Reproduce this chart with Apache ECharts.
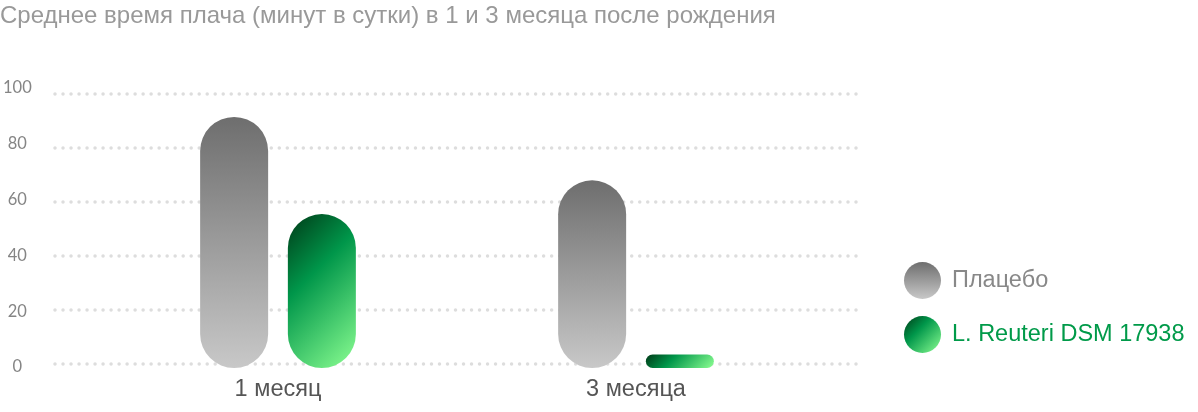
<!DOCTYPE html>
<html>
<head>
<meta charset="utf-8">
<script src="https://cdn.jsdelivr.net/npm/echarts@6/dist/echarts.min.js"></script>
<style>
html,body{margin:0;padding:0;background:#fff;}
#chart{width:1198px;height:412px;}
</style>
</head>
<body>
<div id="chart"></div>
<script>
var titleText = 'Среднее время плача (минут в сутки) в 1 и 3 месяца после рождения';
var categories = ['1 месяц', '3 месяца'];
var seriesNames = ['Плацебо', 'L. Reuteri DSM 17938'];
var placeboValues = [93, 69.5];
var reuteriValues = [57, 5];
var yTicks = [0, 20, 40, 60, 80, 100];

var BAR_W = 68;
var PLOT_H = 270; // height of bar grid in px (for gradient geometry only)
var greenStops = [
  {offset: 0, color: '#003a17'},
  {offset: 0.38, color: '#00964a'},
  {offset: 1, color: '#8cff92'}
];
// emulate a CSS 135deg gradient on a w x h box
function grad135(w, h) {
  var half = (w + h) * Math.SQRT1_2 / 2;
  var d = half * Math.SQRT1_2;
  return new echarts.graphic.LinearGradient(
    (w / 2 - d) / w, (h / 2 - d) / h, (w / 2 + d) / w, (h / 2 + d) / h, greenStops);
}
var grayGrad = new echarts.graphic.LinearGradient(0, 0, 0, 1, [
  {offset: 0, color: '#6e6e6e'},
  {offset: 1, color: '#c8c8c8'}
]);
var reuteriData = reuteriValues.map(function (v) {
  return {value: v, itemStyle: {color: grad135(BAR_W, Math.max(v * PLOT_H / 100, 1))}};
});

var font = 'Liberation Sans, Arial, sans-serif';
var chart = echarts.init(document.getElementById('chart'), null, {renderer: 'canvas'});
chart.setOption({
  animation: false,
  title: {
    text: titleText,
    left: 0, top: 4, padding: 0,
    textStyle: {color: '#999999', fontSize: 24, fontWeight: 'normal', fontFamily: font}
  },
  legend: {
    orient: 'vertical',
    left: 904, top: 262, padding: 0,
    icon: 'circle',
    itemWidth: 37, itemHeight: 37, itemGap: 17,
    selectedMode: false,
    data: [
      {name: seriesNames[0], textStyle: {color: '#888888'}},
      {name: seriesNames[1], textStyle: {color: '#009a49'}}
    ],
    textStyle: {fontSize: 23.5, fontFamily: font, padding: [0, 0, 0, 6]}
  },
  grid: [
    {left: 55, right: 338, top: 94, bottom: 48},
    {left: 99, right: 383, top: 98, bottom: 44},
    {left: 55, right: 338, top: 88, bottom: 45}
  ],
  xAxis: [
    {gridIndex: 0, type: 'category', data: categories, show: false},
    {gridIndex: 1, type: 'category', data: categories,
     axisLine: {show: false}, axisTick: {show: false},
     axisLabel: {color: '#555555', fontSize: 23.5, margin: 10, fontFamily: font}},
    {gridIndex: 2, type: 'category', data: categories, show: false}
  ],
  yAxis: [
    {gridIndex: 0, type: 'value', min: yTicks[0], max: yTicks[yTicks.length - 1], interval: 20,
     axisLine: {show: false}, axisTick: {show: false}, axisLabel: {show: false},
     splitLine: {show: true, lineStyle: {color: '#dddddd', width: 3.5, type: [0.01, 8], cap: 'round'}}},
    {gridIndex: 1, type: 'value', min: 0, max: 100, show: false, splitLine: {show: false}},
    {gridIndex: 2, type: 'value', min: yTicks[0], max: yTicks[yTicks.length - 1], interval: 20,
     axisLine: {show: false}, axisTick: {show: false}, splitLine: {show: false},
     axisLabel: {color: '#858585', fontSize: 16.5, align: 'center', margin: 40, fontFamily: 'Lato', fontWeight: 400}}
  ],
  series: [
    {name: seriesNames[0], type: 'bar', xAxisIndex: 1, yAxisIndex: 1,
     data: placeboValues, barWidth: BAR_W, barGap: '29%',
     itemStyle: {color: grayGrad, borderRadius: 34}},
    {name: seriesNames[1], type: 'bar', xAxisIndex: 1, yAxisIndex: 1,
     data: reuteriData, barWidth: BAR_W, barGap: '29%',
     itemStyle: {color: new echarts.graphic.LinearGradient(0, 0, 1, 1, greenStops), borderRadius: 34}}
  ]
});
</script>
</body>
</html>
